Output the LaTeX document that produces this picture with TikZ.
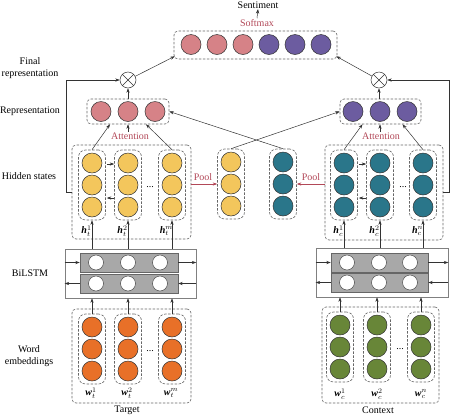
\documentclass[tikz,border=0pt]{standalone}
\usepackage{fontspec}
\setmainfont{Liberation Serif}
\usetikzlibrary{arrows.meta,calc}
\definecolor{pinkC}{RGB}{214,130,135}
\definecolor{purpC}{RGB}{108,92,160}
\definecolor{yellC}{RGB}{243,198,92}
\definecolor{tealC}{RGB}{42,118,138}
\definecolor{orngC}{RGB}{232,112,40}
\definecolor{grnC}{RGB}{104,134,56}
\definecolor{lstmF}{RGB}{168,168,168}
\definecolor{attnred}{RGB}{178,72,88}
\newcommand\mkcol[4]{%
  \node[colbox] (#1) at (#2,#3) {};
  \node[bub, fill=#4] (#1a) at (#2,#3-22) {};
  \node[bub, fill=#4] (#1b) at (#2,#3) {};
  \node[bub, fill=#4] (#1c) at (#2,#3+22) {};
}
\newcommand\hv[1]{\textbf{\textit{#1}}}
\begin{document}
\begin{tikzpicture}[x=1pt,y=-1pt, font=\fontsize{10}{12}\selectfont,
  >={Stealth[length=4.5pt,width=3.2pt]},
  arr/.style={->, draw=black!80, line width=0.5pt},
  dbox/.style={draw=black!60, dash pattern=on 2.5pt off 1.5pt, rounded corners=4pt, line width=0.6pt, inner sep=0},
  colbox/.style={dbox, rounded corners=7pt, minimum width=27pt, minimum height=70pt},
  bub/.style={circle, draw=black!80, line width=0.5pt, minimum size=20pt, inner sep=0},
  lbub/.style={circle, draw=black!70, fill=white, line width=0.5pt, minimum size=15pt, inner sep=0},
  otim/.style={circle, draw=black!80, fill=white, line width=0.5pt, minimum size=16pt, inner sep=0},
  lstmbox/.style={draw=black!50, line width=0.6pt, inner sep=0},
  lstmin/.style={draw=black!60, fill=lstmF, line width=0.5pt, inner sep=0, minimum width=98pt, minimum height=19pt},
  redtxt/.style={text=attnred, inner sep=1pt},
  lbl/.style={align=center, inner sep=0},
  sml/.style={inner sep=0}]
\useasboundingbox (0,0) rectangle (450,416);

% ---------- top ----------
\node[sml] (sent) at (258,5.5) {Sentiment};
\node[redtxt] (smx) at (257,23) {Softmax};
\node[dbox, minimum width=163pt, minimum height=28pt] (smbox) at (255.5,45) {};
\foreach \i/\xx/\cc in {1/191/pinkC,2/217/pinkC,3/243/pinkC,4/269/purpC,5/295/purpC,6/321/purpC}
  \node[bub, fill=\cc] (sm\i) at (\xx,44.5) {};
\draw[arr] (smx.north) -- (sent.south);

% otimes
\node[otim] (otL) at (128,80) {};
\node[otim] (otR) at (379,80) {};
\foreach \o in {otL,otR}{
  \draw[black!80, line width=0.5pt] (\o.north west) -- (\o.south east);
  \draw[black!80, line width=0.5pt] (\o.north east) -- (\o.south west);
}
\draw[arr] (otL) -- ($(smbox.south west)+(1,-3)$);
\draw[arr] (otR) -- ($(smbox.south east)+(-1,-3)$);

% representations
\node[dbox, minimum width=82pt, minimum height=25pt] (repL) at (128,111.5) {};
\foreach \i/\xx in {1/101,2/128,3/155}
  \node[bub, fill=pinkC] (rL\i) at (\xx,111.5) {};
\node[dbox, minimum width=81pt, minimum height=25pt] (repR) at (380.5,111.5) {};
\foreach \i/\xx in {1/353,2/380,3/407}
  \node[bub, fill=purpC] (rR\i) at (\xx,111.5) {};
\draw[arr] (repL.north) -- (otL.south);
\draw[arr] (repR.north -| otR) -- (otR.south);

% ---------- hidden states ----------
\node[dbox, minimum width=119pt, minimum height=94pt] (hidL) at (131.5,192) {};
\mkcol{hL1}{92}{185}{yellC}
\mkcol{hL2}{128}{185}{yellC}
\mkcol{hL3}{172}{185}{yellC}
\node[sml] (dotsHL) at (150,187) {...};
\node[dbox, minimum width=118pt, minimum height=95pt] (hidR) at (384,192.5) {};
\mkcol{hR1}{344}{185}{tealC}
\mkcol{hR2}{380}{185}{tealC}
\mkcol{hR3}{423}{185}{tealC}
\node[sml] (dotsHR) at (403,187) {...};

\node[sml] (lhL1) at (86.5,231) {\hv{h}$^{1}_{t}$};
\node[sml] (lhL2) at (122.5,231) {\hv{h}$^{2}_{t}$};
\node[sml] (lhL3) at (166.5,231) {\hv{h}$^{m}_{t}$};
\node[sml] (lhR1) at (338.5,231) {\hv{h}$^{1}_{c}$};
\node[sml] (lhR2) at (374.5,231) {\hv{h}$^{2}_{c}$};
\node[sml] (lhR3) at (417.5,231) {\hv{h}$^{n}_{c}$};

% small recurrent arrows
\draw[arr] ($(hL1.east)+(1,-21)$) -- ($(hL2.west)+(0,-21)$);
\draw[arr] ($(hL2.west)+(0,13)$) -- ($(hL1.east)+(1,13)$);
\draw[arr] ($(hR1.east)+(1,-21)$) -- ($(hR2.west)+(0,-21)$);
\draw[arr] ($(hR2.west)+(0,13)$) -- ($(hR1.east)+(1,13)$);

% pooled
\mkcol{pY}{231}{184}{yellC}
\mkcol{pT}{283}{184}{tealC}
\draw[arr, draw=attnred] (hidL.east |- pY.west) -- (pY.west);
\draw[arr, draw=attnred] (hidR.west |- pT.east) -- (pT.east);
\node[redtxt] (poolL) at (203,177) {Pool};
\node[redtxt] (poolR) at (311,177) {Pool};

% attention
\node[redtxt] (attL) at (130,136.5) {Attention};
\node[redtxt] (attR) at (381,136.5) {Attention};
\draw[arr] (attL.north -| repL.south) -- (repL.south);
\draw[arr] (attR.north -| rR2) -- (rR2.south |- repR.south);
\draw[arr] (hL1.north) -- ($(repL.south)+(-18,0)$);
\draw[arr] (hL3.north) -- ($(repL.south)+(18,0)$);
\draw[arr] (hR1.north) -- ($(repR.south)+(-18,0)$);
\draw[arr] (hR3.north) -- ($(repR.south)+(22,0)$);

% crossing
\draw[arr] (pY.north) -- (repR.west);
\draw[arr] (pT.north) -- (repL.east);

% loops to otimes
\draw[arr] (hidL.west) -- ++(-5,0) |- (otL.west);
\draw[arr] (hidR.east) -- ++(5.5,0) |- (otR.east);

% ---------- BiLSTM ----------
\node[lstmbox, minimum width=131pt, minimum height=49pt] (bilL) at (130.5,273.5) {};
\node[lstmin] (fwL) at (129,262.5) {};
\node[lstmin] (bwL) at (129,283.5) {};
\foreach \i/\xx in {1/96,2/128,3/160}{
  \node[lbub] (fL\i) at (\xx,262.5) {};
  \node[lbub] (bL\i) at (\xx,283.5) {};
}
\draw[arr] (bilL.west |- fwL.west) -- (fwL.west);
\draw[arr] (fwL.east) -- (bilL.east |- fwL.east);
\draw[arr] (bwL.west) -- (bilL.west |- bwL.west);
\draw[arr] (bilL.east |- bwL.east) -- (bwL.east);

\node[lstmbox, minimum width=132pt, minimum height=49pt] (bilR) at (382,272.5) {};
\node[lstmin, minimum width=97pt] (fwR) at (379.5,262.5) {};
\node[lstmin, minimum width=97pt] (bwR) at (379.5,282.5) {};
\foreach \i/\xx in {1/347,2/379,3/410}{
  \node[lbub] (fR\i) at (\xx,262.5) {};
  \node[lbub] (bR\i) at (\xx,282.5) {};
}
\draw[arr] (bilR.west |- fwR.west) -- (fwR.west);
\draw[arr] (fwR.east) -- (bilR.east |- fwR.east);
\draw[arr] (bwR.west) -- (bilR.west |- bwR.west);
\draw[arr] (bilR.east |- bwR.east) -- (bwR.east);

% BiLSTM -> hidden
\foreach \c in {hL1,hL2,hL3}
  \draw[arr] (\c.south |- bilL.north) -- (\c.south);
\foreach \c in {hR1,hR2,hR3}
  \draw[arr] (\c.south |- bilR.north) -- (\c.south);

% ---------- word embeddings ----------
\node[dbox, minimum width=119pt, minimum height=94pt] (weL) at (131.5,356) {};
\mkcol{eL1}{92}{349}{orngC}
\mkcol{eL2}{128}{349}{orngC}
\mkcol{eL3}{172}{349}{orngC}
\node[sml] (dotsEL) at (150,351) {...};
\node[dbox, minimum width=117pt, minimum height=96pt] (weR) at (380.5,355) {};
\mkcol{eR1}{340}{347}{grnC}
\mkcol{eR2}{377}{347}{grnC}
\mkcol{eR3}{421}{347}{grnC}
\node[sml] (dotsER) at (400,349) {...};

\node[sml] (lwL1) at (91,393) {\hv{w}$^{1}_{t}$};
\node[sml] (lwL2) at (127,393) {\hv{w}$^{2}_{t}$};
\node[sml] (lwL3) at (171,393) {\hv{w}$^{m}_{t}$};
\node[sml] (lwR1) at (340,394) {\hv{w}$^{1}_{c}$};
\node[sml] (lwR2) at (377,394) {\hv{w}$^{2}_{c}$};
\node[sml] (lwR3) at (421,394) {\hv{w}$^{n}_{c}$};

\node[sml] (tgt) at (127,410) {Target};
\node[sml] (ctx) at (378,410) {Context};

\foreach \c in {eL1,eL2,eL3}
  \draw[arr] (\c.north) -- (\c.north |- bilL.south);
\foreach \c in {eR1,eR2,eR3}
  \draw[arr] (\c.north) -- (\c.north |- bilR.south);

% ---------- side labels ----------
\node[lbl] (lFinal) at (30,68) {Final\\representation};
\node[lbl] (lRep) at (30,111) {Representation};
\node[lbl] (lHid) at (29,176) {Hidden states};
\node[lbl] (lBi) at (30,273) {BiLSTM};
\node[lbl] (lWE) at (29,356) {Word\\embeddings};
\end{tikzpicture}
\end{document}
